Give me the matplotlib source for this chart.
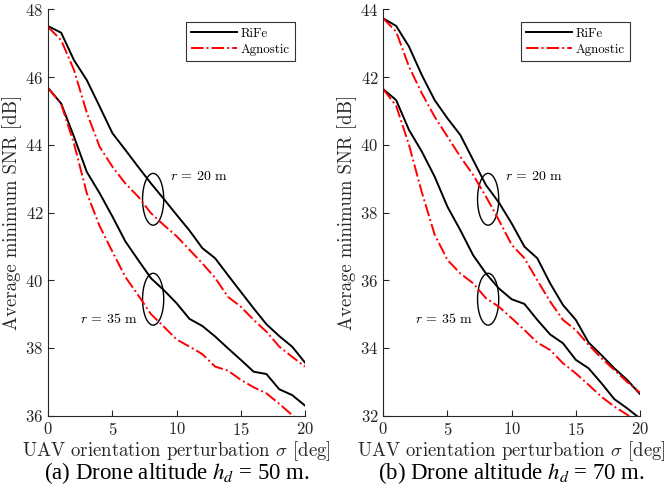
import numpy as np
import matplotlib
matplotlib.use('Agg')
import matplotlib.pyplot as plt
from matplotlib.patches import Ellipse

#orientation perturbation sigma [deg]
sigma = np.arange(0, 21)

#(a) drone altitude 50 m
rife_50_r20 = [47.50, 47.31, 46.50, 45.91, 45.13, 44.34, 43.85, 43.35, 42.86, 42.40, 41.93,
               41.47, 40.95, 40.65, 40.15, 39.66, 39.17, 38.70, 38.35, 38.04, 37.57]
agn_50_r20 = [47.47, 47.09, 46.21, 44.95, 43.94, 43.35, 42.86, 42.47, 41.98, 41.63, 41.30,
              40.90, 40.50, 40.07, 39.51, 39.22, 38.83, 38.48, 38.04, 37.74, 37.45]
rife_50_r35 = [45.67, 45.22, 44.24, 43.20, 42.57, 41.88, 41.15, 40.60, 40.06, 39.71, 39.32,
               38.86, 38.65, 38.34, 37.99, 37.65, 37.30, 37.23, 36.78, 36.61, 36.30]
agn_50_r35 = [45.67, 45.20, 44.04, 42.57, 41.60, 40.84, 40.10, 39.56, 39.00, 38.63, 38.25,
              38.04, 37.82, 37.45, 37.33, 37.06, 36.84, 36.66, 36.35, 36.02, 35.70]

#(b) drone altitude 70 m
rife_70_r20 = [43.73, 43.51, 42.90, 42.06, 41.32, 40.78, 40.29, 39.55, 38.81, 38.30, 37.68,
               36.99, 36.65, 35.91, 35.27, 34.83, 34.16, 33.79, 33.40, 33.06, 32.64]
agn_70_r20 = [43.73, 43.34, 42.31, 41.52, 40.83, 40.24, 39.65, 39.11, 38.47, 37.78, 37.05,
              36.65, 36.00, 35.37, 34.83, 34.53, 34.09, 33.70, 33.35, 33.00, 32.68]
rife_70_r35 = [41.64, 41.32, 40.44, 39.80, 39.06, 38.17, 37.48, 36.74, 36.20, 35.76, 35.44,
               35.30, 34.83, 34.40, 34.14, 33.65, 33.40, 32.96, 32.49, 32.22, 31.92]
agn_70_r35 = [41.64, 41.15, 40.00, 38.60, 37.35, 36.60, 36.20, 35.91, 35.47, 35.22, 34.88,
              34.53, 34.16, 33.94, 33.55, 33.25, 32.91, 32.56, 32.27, 32.03, 31.70]

captions = [r'(a) Drone altitude $h_d$ = 50 m.', r'(b) Drone altitude $h_d$ = 70 m.']

plt.rcParams['font.family'] = 'cmr10'
plt.rcParams['mathtext.fontset'] = 'cm'
plt.rcParams['axes.formatter.use_mathtext'] = True

fig = plt.figure(figsize=(6.68, 4.95), dpi=100)
gray = '#262626'

panels = [
    (0.0723, rife_50_r20, agn_50_r20, rife_50_r35, agn_50_r35, (36, 48), (42.39, 39.44), (43.06, 38.86)),
    (0.5738, rife_70_r20, agn_70_r20, rife_70_r35, agn_70_r35, (32, 44), (38.39, 35.44), (39.06, 34.86)),
]

for k, (left, r20, a20, r35, a35, ylim, ell_y, txt_y) in enumerate(panels):
    ax = fig.add_axes([left, 0.1602, 0.3842, 0.8210])
    ax.plot(sigma, r20, color='black', lw=1.4, label='RiFe')
    ax.plot(sigma, a20, color='red', lw=1.4, ls='-.', label='Agnostic')
    ax.plot(sigma, r35, color='black', lw=1.4)
    ax.plot(sigma, a35, color='red', lw=1.4, ls='-.')

    #circle the curve groups
    ax.add_patch(Ellipse((8.17, ell_y[0]), 1.65, 1.53, fill=False, ec='black', lw=1.0))
    ax.add_patch(Ellipse((8.17, ell_y[1]), 1.65, 1.53, fill=False, ec='black', lw=1.0))
    ax.text(9.5, txt_y[0], r'$r$ = 20 m', fontsize=10, va='center', ha='left')
    ax.text(7.0, txt_y[1], r'$r$ = 35 m', fontsize=10, va='center', ha='right')

    ax.set_xlim(0, 20)
    ax.set_ylim(*ylim)
    ax.set_xticks([0, 5, 10, 15, 20])
    ax.set_yticks(np.arange(ylim[0], ylim[1] + 1, 2))
    ax.spines['top'].set_visible(False)
    ax.spines['right'].set_visible(False)
    for s in ['left', 'bottom']:
        ax.spines[s].set_color(gray)
        ax.spines[s].set_linewidth(0.8)
    ax.tick_params(direction='in', length=4, width=0.8, colors=gray, labelsize=12, labelcolor=gray)
    ax.set_xlabel(r'UAV orientation perturbation $\sigma$ [deg]', fontsize=13.5, color=gray, labelpad=1)
    ax.set_ylabel('Average minimum SNR [dB]', fontsize=13.5, color=gray, labelpad=2)

    leg = ax.legend(loc='upper right', fontsize=9.3, frameon=True, fancybox=False,
                    edgecolor='black', handlelength=3.5, borderpad=0.4, labelspacing=0.3,
                    handletextpad=0.3, bbox_to_anchor=(0.96, 0.968), borderaxespad=0)
    leg.get_frame().set_linewidth(0.8)

    fig.text(left + 0.3842 / 2, 0.044, captions[k], ha='center', va='center', fontsize=16.5,
             family='Liberation Serif', math_fontfamily='stix')

fig.savefig('out.png', dpi=100)
